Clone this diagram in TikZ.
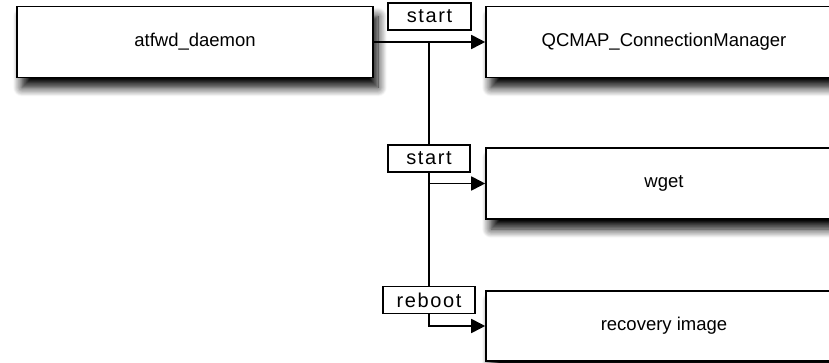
\documentclass[tikz,border=0pt]{standalone}
\usepackage{fontspec}
\setmainfont{Liberation Sans}
\newfontfamily\tagfont[LetterSpace=8]{Liberation Sans}
\usetikzlibrary{arrows.meta}
\usetikzlibrary{shadows.blur}

\begin{document}
\begin{tikzpicture}[x=1pt,y=-1pt,
  proc/.style={draw, line width=1.6pt, fill=white, inner sep=0pt,
    minimum width=356pt, minimum height=71pt,
    font=\fontsize{18.5}{22}\selectfont,
    blur shadow={shadow xshift=5pt, shadow yshift=-10pt,
      shadow blur radius=9pt, shadow blur steps=12, shadow opacity=100}},
  tag/.style={draw, line width=1.3pt, fill=white, inner sep=0pt,
    minimum height=27pt, font=\tagfont\fontsize{20}{22}\selectfont},
  link/.style={line width=1.8pt},
  go/.style={link, -{Triangle[length=14pt,width=14pt]}}]
\useasboundingbox (0,0) rectangle (829,363);
\clip (0,0) rectangle (829,363);
%
\node[proc] (daemon) at (195,42) {atfwd\_daemon};
\node[proc] (qcmap) at (664,42) {QCMAP\_ConnectionManager};
\node[proc] (wget) at (664,183.5) {wget};
\node[proc, minimum height=70pt] (recov) at (664,326) {recovery image};
%
\node[tag, minimum width=83pt] (start1) at (429.5,16.5) {start};
\node[tag, minimum width=82pt] (start2) at (429,158.5) {start};
\node[tag, minimum width=92pt] (boot) at (429,300) {reboot};
%
\coordinate (fork) at (start2.north |- daemon.east);
\draw[go] (daemon) -- (qcmap);
\draw[link] (fork) -- (start2.north);
\draw[go] (start2.south) |- (wget.west);
\draw[link] (start2.south) -- (boot.north);
\draw[go] (boot.south) |- (recov.west);
\end{tikzpicture}
\end{document}
